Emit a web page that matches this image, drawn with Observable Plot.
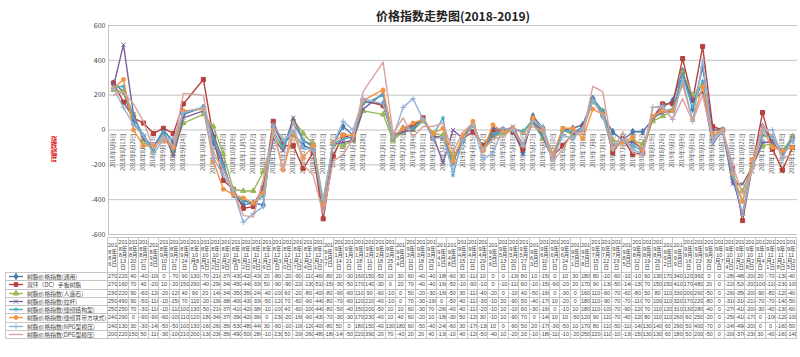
<!DOCTYPE html>
<html><head><meta charset="utf-8">
<script src="https://cdn.jsdelivr.net/npm/d3@7"></script>
<script src="https://cdn.jsdelivr.net/npm/@observablehq/plot@0.6"></script>
<style>
body{margin:0;background:#fff;font-family:"Noto Sans CJK SC","Liberation Sans",sans-serif;}
#wrap{position:relative;width:800px;height:357px;overflow:hidden;background:#fff;}
#chart{position:absolute;left:0;top:0;}
#ylab{position:absolute;left:50px;top:136px;writing-mode:vertical-rl;color:#e02828;font-size:6.5px;line-height:7px;font-weight:bold;}
#tbl{position:absolute;left:5px;top:237px;display:grid;font-family:"Liberation Sans","Noto Sans CJK SC",sans-serif;color:#444;}
#tbl div.c{box-sizing:border-box;border-right:1px solid #c6c6c6;border-bottom:1px solid #c6c6c6;overflow:hidden;}
#tbl div.hd{border-top:1px solid #c6c6c6;display:flex;align-items:center;justify-content:center;text-align:center;word-break:break-all;font-size:5.5px;line-height:6.3px;}
#tbl div.val{white-space:nowrap;text-align:center;font-size:5.5px;}
#tbl div.lg{border-left:1px solid #c6c6c6;display:flex;align-items:center;padding-left:2px;white-space:nowrap;font-family:"Noto Sans CJK SC",sans-serif;font-size:5.8px;}
#tbl div.lg svg{flex:none;margin-right:3px;}
#tbl div.corner{border-right:1px solid #c6c6c6;border-bottom:1px solid #c6c6c6;box-sizing:border-box;}
</style></head>
<body><div id="wrap"><div id="chart"></div><div id="ylab"></div><div id="tbl"></div></div>
<script>
const title = "价格指数走势图(2018-2019)";
const yLabel = "涨跌幅度";
const yTicks = [600, 400, 200, 0, -200, -400, -600];
const dates = ["2018-08-06","2018-08-13","2018-08-20","2018-08-27","2018-09-03","2018-09-10","2018-09-17","2018-09-24","2018-10-08","2018-10-15","2018-10-22","2018-10-29","2018-11-05","2018-11-12","2018-11-19","2018-11-26","2018-12-03","2018-12-10","2018-12-17","2018-12-24","2018-12-31","2019-01-07","2019-01-14","2019-01-21","2019-01-28","2019-02-11","2019-02-18","2019-02-25","2019-03-04","2019-03-11","2019-03-18","2019-03-25","2019-04-01","2019-04-08","2019-04-15","2019-04-22","2019-04-29","2019-05-06","2019-05-13","2019-05-20","2019-05-27","2019-06-03","2019-06-10","2019-06-17","2019-06-24","2019-07-01","2019-07-08","2019-07-15","2019-07-22","2019-07-29","2019-08-05","2019-08-12","2019-08-19","2019-08-26","2019-09-02","2019-09-09","2019-09-16","2019-09-23","2019-09-30","2019-10-07","2019-10-14","2019-10-21","2019-10-28","2019-11-04","2019-11-11","2019-11-18","2019-11-25"];
const seriesNames = ["树脂价格指数(通用)","双环（DC）手板树脂","树脂价格指数(人造石)","树脂价格指数(拉杆)","树脂价格指数(缝纫结构型)","树脂价格指数(缝纫耳带方块式)","树脂价格指数(NPG型模压)","树脂价格指数(DPG型模压)"];
const seriesColors = ["#4a76b0","#b5403c","#98b855","#7c5f9e","#4aa9c2","#f4943f","#93b2d8","#d6a39f"];
const seriesSymbols = ["diamond","square","triangle","times","asterisk","circle","plus",null];
const general = [270,220,40,-40,-100,0,-70,90,130,-70,-210,-370,-430,-420,-430,20,-80,-20,-90,-110,-460,-80,20,-30,160,150,-50,10,30,60,-40,-40,-180,-60,30,-110,10,0,0,-130,80,10,-150,0,10,30,180,80,-10,-60,-10,-10,60,130,170,340,120,360,0,0,-280,-480,-200,20,-70,-130,-40];
const dcBoard = [270,160,70,40,-20,10,-20,150,290,-40,-290,-340,-450,-440,-330,50,-90,-90,-220,-130,-510,-150,-30,-50,170,140,-30,0,20,70,-40,-40,-160,-50,-10,-90,-10,0,-10,-110,60,-10,-150,-90,-20,20,170,90,-130,-50,-140,-130,70,150,150,410,170,480,20,0,-220,-520,-200,100,-110,-230,-100];
const artStone = [230,220,90,-60,-120,-20,-120,40,90,20,-140,-340,-350,-350,-240,-40,-100,60,-20,-80,-400,-80,-90,-60,110,90,-60,-10,0,50,-20,-30,-160,-50,30,-110,-40,-20,0,-10,40,-50,-160,0,-30,0,160,110,-60,-70,-60,-80,50,80,110,330,200,260,-50,0,-260,-350,-200,-90,-80,-120,-40];
const pullRod = [250,490,90,-50,-110,-10,-150,70,110,-20,-190,-380,-400,-430,-330,-50,-120,70,-60,-90,-440,-80,-70,-60,120,210,-40,-10,0,70,-30,-190,0,-50,40,-110,-30,-10,20,-90,50,-40,-170,10,-20,0,180,110,-90,-70,-70,-110,70,100,110,320,170,220,-80,0,-310,-310,-210,-70,-70,-140,-50];
const sewStruct = [250,250,70,-30,-110,-10,-110,100,130,-50,-210,-370,-410,-420,-380,-10,-100,40,-60,-100,-440,-80,-50,-40,150,200,-50,10,10,60,-30,70,-260,-40,40,-110,-20,-10,10,-10,60,-30,-160,0,-10,10,180,110,-100,-70,-90,-120,70,110,120,310,130,280,-40,0,-270,-410,-200,-30,-40,-130,-60];
const sewEar = [240,290,0,-90,-90,-60,-100,110,120,-180,-340,-370,-390,-420,-360,0,-230,-20,-160,-90,-430,-70,-30,-30,170,230,-40,10,40,60,-20,10,-180,-30,50,-120,30,-10,10,-90,70,0,-140,10,10,-50,120,90,-110,-70,-40,-120,80,110,110,260,60,250,-20,0,-250,-410,-170,0,-100,-120,-100];
const npgMold = [240,130,30,-30,-140,-50,-50,100,130,-160,-260,-350,-530,-480,-440,30,-60,-10,-100,-120,-400,-80,50,0,180,150,-40,130,180,60,-50,-40,-240,-60,30,-170,-130,10,0,-90,50,20,-170,-30,-50,10,170,80,-110,-50,-110,-140,130,140,60,290,50,400,-70,0,-240,-490,-200,0,0,-160,-50];
const dpgMold = [200,220,150,50,-110,-30,-100,210,200,-130,-230,-350,-490,-500,-280,-10,-230,50,-200,-260,-480,-180,-140,-50,220,390,-20,70,-40,20,20,40,-130,-10,40,-120,-50,-40,10,-20,20,-10,-180,-110,-10,-20,250,220,-110,-10,-130,-150,130,130,60,180,50,200,-50,0,-200,-370,-230,30,-40,-160,-140];

const seriesValues = [general, dcBoard, artStone, pullRod, sewStruct, sewEar, npgMold, dpgMold];
const parse = d3.utcParse("%Y-%m-%d");
const D = dates.map(parse);
const fmtDate = d3.utcFormat("%Y年%-m月%-d日");
const DAY = 864e5;
const xDomain = [new Date(+D[0] - 3.5 * DAY), new Date(+D[D.length - 1] + 3.5 * DAY)];
const FONT = '"Noto Sans CJK SC","Liberation Sans",sans-serif';

const marks = [
  Plot.ruleY(yTicks, {stroke: "#c3c3c3", strokeWidth: 1}),
  Plot.ruleX([xDomain[0]], {stroke: "#c3c3c3", strokeWidth: 1}),
  Plot.text(D, {x: d => d, y: 0, text: d => fmtDate(d), rotate: -90, textAnchor: "end", fontSize: 5.5, fill: "#555", dy: 3})
];
seriesValues.forEach((vals, k) => {
  const data = D.map((d, i) => ({date: d, value: vals[i]}));
  marks.push(Plot.line(data, {x: "date", y: "value", stroke: seriesColors[k], strokeWidth: 1.4}));
  const sym = seriesSymbols[k];
  if (sym) {
    const filled = ["diamond","square","triangle","circle"].includes(sym);
    marks.push(Plot.dot(data, {x: "date", y: "value", symbol: sym, r: sym === "square" ? 2.3 : 2,
      fill: filled ? seriesColors[k] : "none", stroke: seriesColors[k], strokeWidth: 1}));
  }
});
marks.push(Plot.text([title], {frameAnchor: "top", dy: -13, fontSize: 12, fontWeight: "bold", fill: "#222"}));

const chart = Plot.plot({
  width: 800, height: 238,
  marginLeft: 108, marginRight: 3, marginTop: 25, marginBottom: 4,
  x: {type: "utc", domain: xDomain, axis: null},
  y: {domain: [-600, 600], ticks: yTicks, tickSize: 0, tickPadding: 3, tickFormat: d => String(d), label: null},
  style: {fontFamily: FONT, fontSize: "7px", color: "#444", background: "transparent", overflow: "visible"},
  marks
});
document.getElementById("chart").appendChild(chart);
document.getElementById("ylab").textContent = yLabel;

// data table
const tbl = document.getElementById("tbl");
const colW = 689 / D.length;
tbl.style.gridTemplateColumns = `103px repeat(${D.length}, ${colW}px)`;
tbl.style.gridTemplateRows = `36px repeat(${seriesValues.length}, 8.25px)`;
function cell(cls, text) {
  const e = document.createElement("div");
  e.className = cls;
  if (text != null) e.textContent = text;
  tbl.appendChild(e);
  return e;
}
cell("corner");
D.forEach(d => cell("c hd", fmtDate(d)));
seriesValues.forEach((vals, k) => {
  const lg = cell("c lg");
  const svg = d3.create("svg").attr("width", 16).attr("height", 7);
  svg.append("line").attr("x1", 1).attr("x2", 15).attr("y1", 3.5).attr("y2", 3.5)
    .attr("stroke", seriesColors[k]).attr("stroke-width", 1.3);
  const sym = seriesSymbols[k];
  if (sym) {
    const map = {diamond: d3.symbolDiamond, square: d3.symbolSquare, triangle: d3.symbolTriangle, times: d3.symbolTimes,
      asterisk: d3.symbolAsterisk, circle: d3.symbolCircle, plus: d3.symbolPlus};
    const filled = ["diamond","square","triangle","circle"].includes(sym);
    svg.append("path").attr("transform", "translate(8,3.5)")
      .attr("d", d3.symbol(map[sym], sym === "square" ? 14 : 12)())
      .attr("fill", filled ? seriesColors[k] : "none").attr("stroke", seriesColors[k]).attr("stroke-width", 0.9);
  }
  lg.appendChild(svg.node());
  const sp = document.createElement("span");
  sp.textContent = seriesNames[k];
  lg.appendChild(sp);
  vals.forEach(v => {
    const c = cell("c val", String(v));
    c.style.lineHeight = "7.25px";
  });
});
</script>
</body></html>
